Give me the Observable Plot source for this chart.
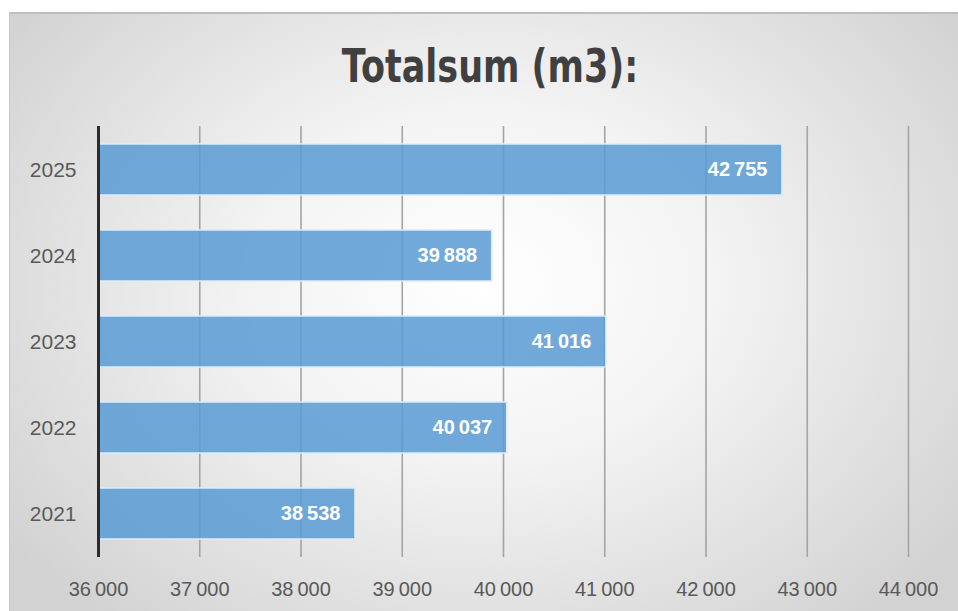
<!DOCTYPE html>
<html>
<head>
<meta charset="utf-8">
<script src="https://cdn.jsdelivr.net/npm/d3@7"></script>
<script src="https://cdn.jsdelivr.net/npm/@observablehq/plot@0.6"></script>
<style>
  html, body { margin: 0; padding: 0; background: #ffffff; width: 958px; height: 611px; overflow: hidden; }
  #bg {
    position: absolute; left: 9px; top: 12px; width: 949px; height: 599px;
    box-sizing: border-box;
    border-top: 2px solid #bdbdbd; border-left: 1px solid #c8c8c8;
    background: radial-gradient(ellipse 62% 75% at 50% 45%, #ffffff 0%, #f3f3f3 40%, #d2d2d2 100%);
  }
  #wrap { position: absolute; left: 0; top: 0; width: 958px; height: 611px; }
  #title {
    height: 110px; box-sizing: border-box; padding-top: 43px; padding-left: 22px;
    text-align: center;
  }
  #title span {
    display: inline-block; transform: scaleX(0.76); transform-origin: 50% 50%;
    font-family: "DejaVu Sans", "Liberation Sans", sans-serif;
    font-weight: bold; font-size: 46px; line-height: 46px; color: #404040; white-space: nowrap;
  }
  svg { display: block; background: transparent !important; }
</style>
</head>
<body>
<div id="bg"></div>
<div id="wrap">
  <div id="title"><span>Totalsum (m3):</span></div>
  <div id="chart"></div>
</div>
<script>
const years = ["2025", "2024", "2023", "2022", "2021"];
const values = [42755, 39888, 41016, 40037, 38538];
const xTicks = [36000, 37000, 38000, 39000, 40000, 41000, 42000, 43000, 44000];
const xMin = 36000, xMax = 44000;

const data = years.map((y, i) => ({year: y, value: values[i]}));
const loc = d3.formatLocale({decimal: ",", thousands: "\u2009", grouping: [3], currency: ["", ""]});
const fmt = loc.format(",d");

const chart = Plot.plot({
  width: 958,
  height: 501,
  marginLeft: 98,
  marginRight: 50,
  marginTop: 16,
  marginBottom: 54,
  style: {background: "transparent", fontFamily: "'Liberation Sans', Arial, sans-serif"},
  x: {domain: [xMin, xMax], axis: null, label: null},
  y: {domain: years, paddingInner: 0.41, paddingOuter: 0.205, axis: null, label: null},
  marks: [
    Plot.ruleX(xTicks.slice(1), {stroke: "#a4a4a4", strokeWidth: 1.6}),
    Plot.barX(data, {x1: () => xMin, x2: "value", y: "year", fill: "#5b9bd5", fillOpacity: 0.86, stroke: "#dcecfa", strokeWidth: 1.5}),
    Plot.ruleX([xMin], {stroke: "#2b2b2b", strokeWidth: 3}),
    Plot.text(data, {x: "value", y: "year", text: d => fmt(d.value), textAnchor: "end", dx: -15, fill: "#ffffff", fontWeight: "bold", fontSize: 20}),
    Plot.axisX(xTicks, {tickSize: 0, tickPadding: 24, fontSize: 20, fill: "#595959", tickFormat: fmt, label: null}),
    Plot.axisY(years, {tickSize: 0, tickPadding: 22, fontSize: 21, fill: "#595959", anchor: "left", label: null})
  ]
});
document.getElementById("chart").appendChild(chart);
</script>
</body>
</html>
